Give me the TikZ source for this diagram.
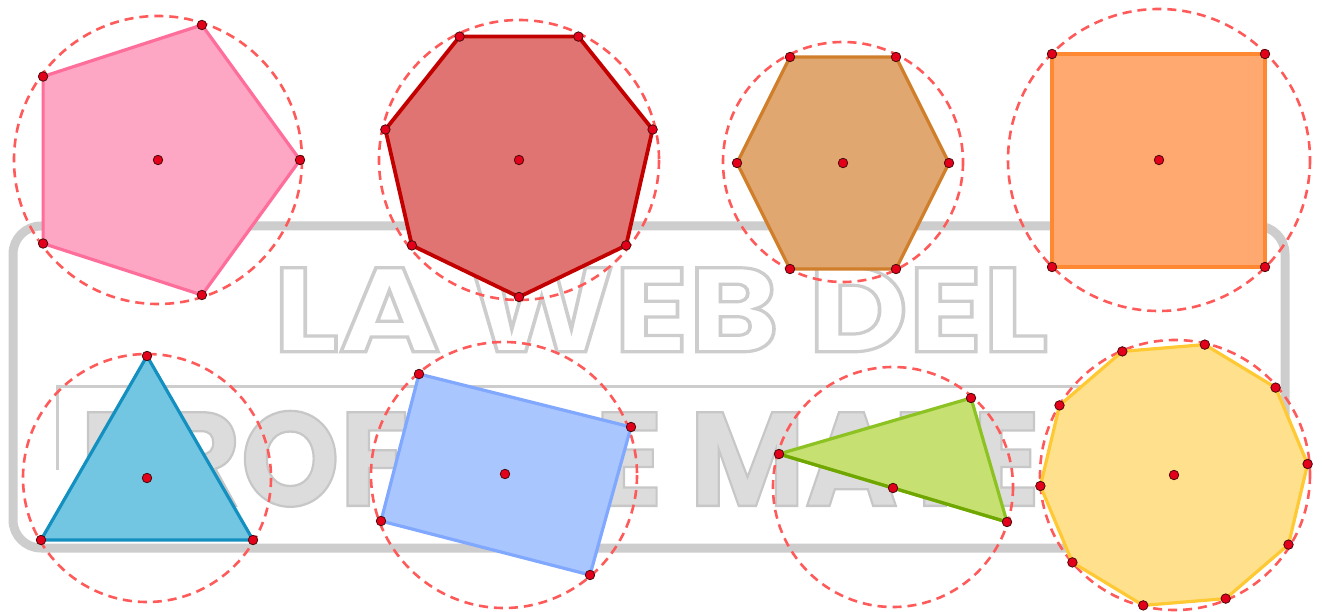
\documentclass[tikz,border=0pt]{standalone}
\usepackage{fontspec}
\setmainfont{Poppins}
\definecolor{pinkfill}{HTML}{FDA7C4}
\definecolor{pinkline}{HTML}{FF6D9B}
\definecolor{redfill}{HTML}{E07472}
\definecolor{redline}{HTML}{C30000}
\definecolor{tanfill}{HTML}{E0A870}
\definecolor{tanline}{HTML}{D07E2A}
\definecolor{orangefill}{HTML}{FFA86F}
\definecolor{orangeline}{HTML}{FF8833}
\definecolor{bluefill}{HTML}{72C6E2}
\definecolor{blueline}{HTML}{1490C0}
\definecolor{perifill}{HTML}{AAC6FF}
\definecolor{periline}{HTML}{80A8FF}
\definecolor{greenfill}{HTML}{C6E072}
\definecolor{greenline}{HTML}{8CC222}
\definecolor{greendark}{HTML}{6FA600}
\definecolor{yellowfill}{HTML}{FFE08C}
\definecolor{yellowline}{HTML}{FFC933}
\definecolor{circred}{HTML}{FF5A5A}
\definecolor{dotred}{HTML}{E3001B}
\definecolor{dotedge}{HTML}{4A0A0A}
\definecolor{wmgray}{HTML}{CDCDCD}
\definecolor{wmfill}{HTML}{DCDCDC}
\newcommand{\outlinetext}[1]{\special{pdf:literal direct 1 Tr 3.2 w}#1\special{pdf:literal direct 0 Tr}}
\newcommand{\filloutlinetext}[1]{\special{pdf:literal direct 2 Tr 2.2 w 0.78 0.78 0.78 RG}#1\special{pdf:literal direct 0 Tr}}
\begin{document}
\begin{tikzpicture}[x=1pt,y=-1pt,
  circ/.style={draw=circred, dash pattern=on 9pt off 6pt, line width=2.6pt},
  vdot/.style={circle, fill=dotred, draw=dotedge, line width=0.8pt, inner sep=0pt, minimum size=9.5pt},
  poly/.style={line width=3.2pt, line join=round},
  frame/.style={draw=wmgray, line width=9pt, rounded corners=28pt},
  inner/.style={draw=wmgray, line width=3pt}]
\useasboundingbox (0,0) rectangle (1322,612);

% ---- watermark ----
\draw[frame] (13,226) rectangle (1285,548);
\draw[inner] (57,470) -- (57,386) -- (1120,386);
\node[anchor=south west, inner sep=0pt, text=wmfill] (wmline2) at (80,507)
  {\resizebox{960pt}{95pt}{\fontsize{130}{130}\selectfont\bfseries\filloutlinetext{PROFE DE MATE}}};
\node[anchor=south west, inner sep=0pt, text=wmgray] (wmline1) at (273,352)
  {\resizebox{775pt}{84pt}{\fontsize{120}{120}\selectfont\bfseries\outlinetext{LA WEB DEL}}};

% ---- dashed circles ----
\draw[circ] (158,160) circle[radius=144];
\draw[circ] (519,160) circle[radius=140];
\draw[circ] (843,162) circle[radius=120];
\draw[circ] (1159,160) circle[radius=151];
\draw[circ] (147,478) circle[radius=124];
\draw[circ] (504,475) circle[radius=133];
\draw[circ] (893,487) circle[radius=120];
\draw[circ] (1175,475) circle[radius=135];

% ---- vertices ----
% pentagon
\coordinate (a1) at (300,160);
\coordinate (a2) at (201.9,25.0);
\coordinate (a3) at (43.1,76.5);
\coordinate (a4) at (43.1,243.5);
\coordinate (a5) at (201.9,295.0);
\coordinate (ac) at (158,160);
% heptagon
\coordinate (b1) at (519,297);
\coordinate (b2) at (626.1,245.4);
\coordinate (b3) at (652.6,129.5);
\coordinate (b4) at (578.4,36.6);
\coordinate (b5) at (459.6,36.6);
\coordinate (b6) at (385.4,129.5);
\coordinate (b7) at (411.9,245.4);
\coordinate (bc) at (519,160);
% hexagon
\coordinate (c1) at (790,57);
\coordinate (c2) at (896,57);
\coordinate (c3) at (949,163);
\coordinate (c4) at (896,269);
\coordinate (c5) at (790,269);
\coordinate (c6) at (737,163);
\coordinate (cc) at (843,163);
% square
\coordinate (d1) at (1052,54);
\coordinate (d2) at (1265,54);
\coordinate (d3) at (1265,267);
\coordinate (d4) at (1052,267);
\coordinate (dc) at (1159,160);
% triangle
\coordinate (e1) at (147,356);
\coordinate (e2) at (253,540);
\coordinate (e3) at (41,540);
\coordinate (ec) at (147,478);
% rectangle
\coordinate (f1) at (419,374);
\coordinate (f2) at (631,427);
\coordinate (f3) at (590,575);
\coordinate (f4) at (381,521);
\coordinate (fc) at (505,474);
% green triangle
\coordinate (g1) at (779,454);
\coordinate (g2) at (971,398);
\coordinate (g3) at (1007,522);
\coordinate (gc) at (893,488);
% decagon
\coordinate (h1) at (1307.6,464.0);
\coordinate (h2) at (1275.6,387.6);
\coordinate (h3) at (1204.8,344.6);
\coordinate (h4) at (1122.3,351.4);
\coordinate (h5) at (1059.5,405.4);
\coordinate (h6) at (1040.4,486.0);
\coordinate (h7) at (1072.4,562.4);
\coordinate (h8) at (1143.2,605.4);
\coordinate (h9) at (1225.7,598.6);
\coordinate (h10) at (1288.5,544.6);
\coordinate (hc) at (1174,475);

% ---- polygons ----
\filldraw[poly, fill=pinkfill, draw=pinkline] (a1) -- (a2) -- (a3) -- (a4) -- (a5) -- cycle;
\filldraw[poly, fill=redfill, draw=redline, line width=3.8pt] (b1) -- (b2) -- (b3) -- (b4) -- (b5) -- (b6) -- (b7) -- cycle;
\filldraw[poly, fill=tanfill, draw=tanline] (c1) -- (c2) -- (c3) -- (c4) -- (c5) -- (c6) -- cycle;
\filldraw[poly, fill=orangefill, draw=orangeline] (d1) -- (d2) -- (d3) -- (d4) -- cycle;
\filldraw[poly, fill=bluefill, draw=blueline] (e1) -- (e2) -- (e3) -- cycle;
\filldraw[poly, fill=perifill, draw=periline] (f1) -- (f2) -- (f3) -- (f4) -- cycle;
\filldraw[poly, fill=greenfill, draw=greenline] (g1) -- (g2) -- (g3) -- cycle;
\draw[poly, draw=greendark] (g3) -- (g1);
\filldraw[poly, fill=yellowfill, draw=yellowline] (h1) -- (h2) -- (h3) -- (h4) -- (h5) -- (h6) -- (h7) -- (h8) -- (h9) -- (h10) -- cycle;

% ---- dots ----
\foreach \p in {a1,a2,a3,a4,a5,ac,b1,b2,b3,b4,b5,b6,b7,bc,c1,c2,c3,c4,c5,c6,cc,d1,d2,d3,d4,dc,e1,e2,e3,ec,f1,f2,f3,f4,fc,g1,g2,g3,gc,h1,h2,h3,h4,h5,h6,h7,h8,h9,h10,hc}
  \node[vdot] (\p dot) at (\p) {};
\end{tikzpicture}
\end{document}
